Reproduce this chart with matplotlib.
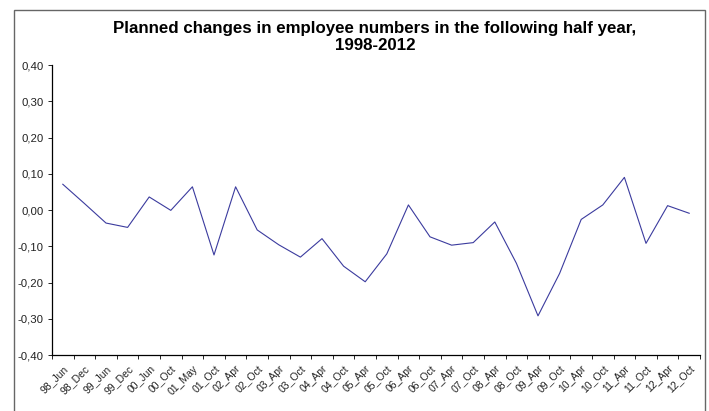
import matplotlib.pyplot as plt
import numpy as np
from matplotlib.patches import Rectangle

# Data
periods = ['98_Jun', '98_Dec', '99_Jun', '99_Dec', '00_Jun', '00_Oct', '01_May', '01_Oct',
           '02_Apr', '02_Oct', '03_Apr', '03_Oct', '04_Apr', '04_Oct', '05_Apr', '05_Oct',
           '06_Apr', '06_Oct', '07_Apr', '07_Oct', '08_Apr', '08_Oct', '09_Apr', '09_Oct',
           '10_Apr', '10_Oct', '11_Apr', '11_Oct', '12_Apr', '12_Oct']
values = [0.071, 0.018, -0.036, -0.048, 0.036, -0.001, 0.064, -0.124,
          0.064, -0.055, -0.096, -0.130, -0.079, -0.155, -0.198, -0.121,
          0.014, -0.074, -0.097, -0.090, -0.033, -0.147, -0.292, -0.175,
          -0.026, 0.014, 0.090, -0.092, 0.012, -0.009]

plt.rcParams['font.family'] = ['Liberation Sans', 'DejaVu Sans']

fig = plt.figure(figsize=(7.09, 4.11), dpi=100)
ax = fig.add_axes([52 / 709, 1 - 355 / 411, 648 / 709, 290 / 411])

x = np.arange(len(periods))
ax.plot(x, values, color='#3b3b9e', linewidth=0.8)

ax.set_xlim(-0.5, len(periods) - 0.5)
ax.set_ylim(-0.4, 0.4)

yt = np.arange(-0.4, 0.41, 0.1)
ax.set_yticks(yt)
ax.set_yticklabels([f'{v:.2f}'.replace('.', ',').replace('-0,00', '0,00') for v in yt],
                   fontsize=8.2, color='#222222')

ax.set_xticks(x)
ax.set_xticklabels(periods, rotation=45, ha='right', rotation_mode='anchor',
                   fontsize=7.5, color='#222222')
ax.set_xticks(np.arange(-0.5, len(periods), 1), minor=True)
ax.tick_params(axis='x', which='major', length=0, pad=6)
ax.tick_params(axis='x', which='minor', length=3, width=0.6, direction='out')
ax.tick_params(axis='y', length=3, width=0.6, direction='out', pad=3)

for s in ['top', 'right']:
    ax.spines[s].set_visible(False)
for s in ['left', 'bottom']:
    ax.spines[s].set_linewidth(0.9)

# chart border
fig.patches.append(Rectangle((14 / 709, -0.05), 691 / 709, 1.05 - 10 / 411,
                             transform=fig.transFigure, fill=False,
                             edgecolor='#666666', linewidth=1.0))

fig.text(375 / 709, 1 - 37 / 411,
         'Planned changes in employee numbers in the following half year,\n1998-2012',
         ha='center', va='center', fontsize=12.2, fontweight='bold', linespacing=1.25)

fig.savefig('out.png', dpi=100)
